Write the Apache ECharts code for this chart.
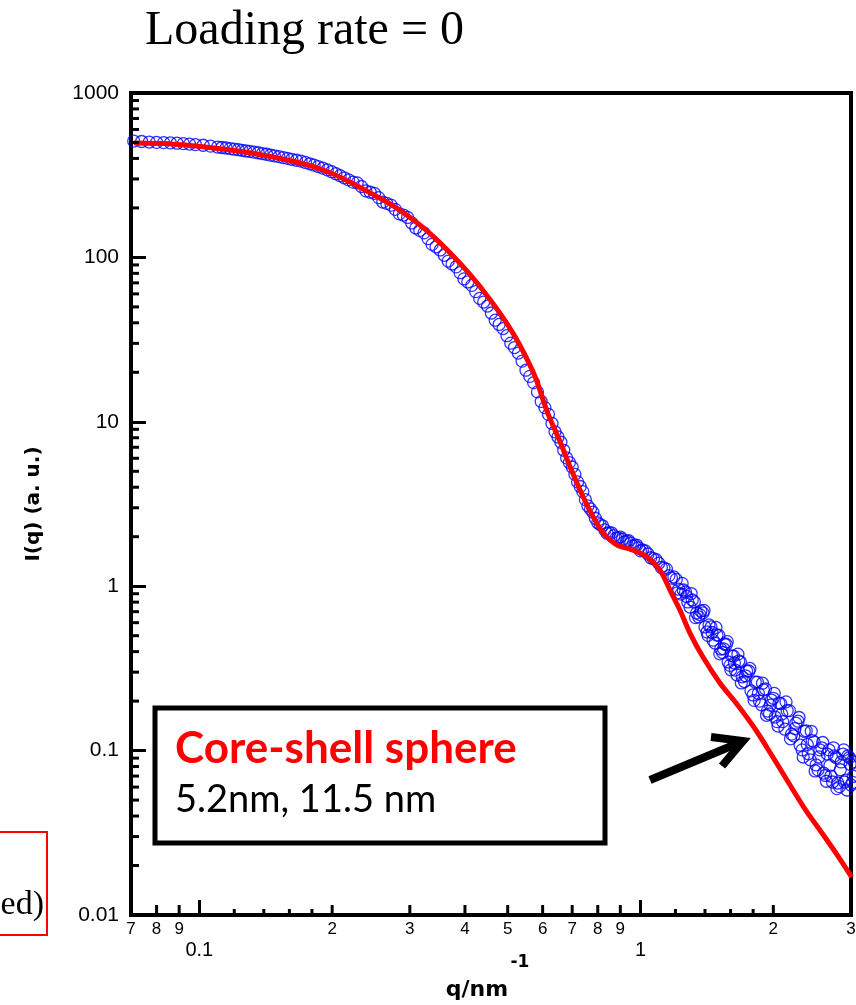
<!DOCTYPE html>
<html>
<head>
<meta charset="utf-8">
<style>
  html, body { margin: 0; padding: 0; background: #fff; }
  #chart { width: 856px; height: 1005px; }
</style>
<script src="https://cdn.jsdelivr.net/npm/echarts@6/dist/echarts.min.js"></script>
</head>
<body>
<div id="chart"></div>
<script>
// measured intensity (blue circles); the last rows are the extra noisy points of the high-q tail
const measQ = [
  0.071, 0.074, 0.077, 0.080, 0.083, 0.086, 0.089, 0.092, 0.095, 0.098,
  0.102, 0.106, 0.110, 0.1125, 0.115, 0.1175, 0.120, 0.1225, 0.125, 0.1275,
  0.130, 0.133, 0.136, 0.139, 0.142, 0.145, 0.148, 0.1515, 0.155, 0.1585,
  0.162, 0.166, 0.170, 0.174, 0.178, 0.182, 0.186, 0.1905, 0.195, 0.1995,
  0.204, 0.2085, 0.213, 0.218, 0.223, 0.228, 0.233, 0.2385, 0.244, 0.2495,
  0.255, 0.2605, 0.266, 0.272, 0.278, 0.284, 0.290, 0.2965, 0.303, 0.3095,
  0.316, 0.323, 0.330, 0.337, 0.344, 0.3515, 0.359, 0.3665, 0.374, 0.382,
  0.390, 0.398, 0.406, 0.4145, 0.423, 0.432, 0.441, 0.450, 0.459, 0.4685,
  0.478, 0.488, 0.498, 0.508, 0.518, 0.5285, 0.539, 0.550, 0.561, 0.5725,
  0.584, 0.5955, 0.607, 0.6185, 0.63, 0.64, 0.65, 0.66, 0.67, 0.68,
  0.69, 0.70, 0.71, 0.72, 0.73, 0.74, 0.75, 0.76, 0.77, 0.78,
  0.79, 0.80, 0.81, 0.82, 0.83, 0.84, 0.85, 0.86, 0.87, 0.88,
  0.89, 0.90, 0.91, 0.92, 0.93, 0.94, 0.95, 0.96, 0.97, 0.98,
  0.99, 1.00, 1.01, 1.025, 1.04, 1.055, 1.07, 1.085, 1.10, 1.115,
  1.13, 1.145, 1.16, 1.175, 1.19, 1.205, 1.22, 1.235, 1.25, 1.265,
  1.28, 1.295, 1.31, 1.325, 1.34, 1.355, 1.37, 1.385, 1.40, 1.415,
  1.43, 1.445, 1.46, 1.475, 1.49, 1.505, 1.52, 1.535, 1.55, 1.565,
  1.58, 1.595, 1.61, 1.625, 1.64, 1.655, 1.67, 1.685, 1.70, 1.72,
  1.74, 1.76, 1.78, 1.80, 1.82, 1.84, 1.86, 1.88, 1.90, 1.92,
  1.94, 1.96, 1.98, 2.00, 2.02, 2.04, 2.06, 2.08, 2.10, 2.125,
  2.15, 2.175, 2.20, 2.225, 2.25, 2.275, 2.30, 2.325, 2.35, 2.375,
  2.40, 2.425, 2.45, 2.475, 2.50, 2.525, 2.55, 2.575, 2.60, 2.625,
  2.65, 2.675, 2.70, 2.725, 2.75, 2.775, 2.80, 2.825, 2.85, 2.875,
  2.90, 2.925, 2.95, 2.975, 3.00, 3.025, 3.05,
  1.2125, 1.2425, 1.2725, 1.3025, 1.3325, 1.3625, 1.3925, 1.4225, 1.4525, 1.4825,
  1.5125, 1.5425, 1.5725, 1.6025, 1.6325, 1.6625, 1.6925, 1.73, 1.77, 1.81,
  1.85, 1.89, 1.93, 1.97, 2.01, 2.05, 2.09, 2.1375, 2.1875, 2.2375,
  2.2875, 2.3375, 2.3875, 2.4375, 2.4875, 2.5375, 2.5875, 2.6375, 2.6875, 2.7375,
  2.7875, 2.8375, 2.8875, 2.9375, 2.9875, 3.0375
]
const measI = [
  510, 507, 503, 501, 499, 497, 495, 492, 489, 485,
  481, 475, 469, 466, 463, 459, 455, 452, 448, 444,
  441, 437, 433, 428, 424, 419, 415, 410, 405, 400,
  395, 390, 385, 378, 371, 364, 357, 349, 341, 332,
  323, 314, 305, 296, 287, 284, 270, 254, 249, 245,
  231, 217, 213, 208, 196, 184, 181, 175, 162, 151,
  146, 141, 130, 120, 116, 111, 103, 94.9, 91.2, 87.6,
  80.7, 74.0, 70.9, 67.6, 61.9, 56.3, 53.5, 50.6, 45.9, 41.5,
  39.1, 36.9, 33.4, 30.1, 28.3, 26.2, 23.4, 20.6, 18.9, 17.3,
  15.2, 13.3, 12.2, 11.1, 9.77, 8.69, 8.08, 7.51, 6.71, 6.03,
  5.65, 5.31, 4.79, 4.31, 4.04, 3.76, 3.36, 3.08, 2.95, 2.82,
  2.59, 2.43, 2.37, 2.33, 2.20, 2.10, 2.11, 2.11, 2.03, 1.96,
  1.97, 1.99, 1.93, 1.86, 1.88, 1.89, 1.83, 1.76, 1.77, 1.78,
  1.71, 1.64, 1.66, 1.64, 1.57, 1.49, 1.47, 1.45, 1.38, 1.30,
  1.29, 1.27, 1.16, 1.12, 1.14, 1.10, 0.959, 0.895, 0.948, 0.922,
  0.802, 0.747, 0.824, 0.802, 0.687, 0.650, 0.707, 0.688, 0.565, 0.527,
  0.581, 0.565, 0.470, 0.451, 0.505, 0.502, 0.415, 0.395, 0.445, 0.442,
  0.346, 0.330, 0.377, 0.376, 0.309, 0.288, 0.351, 0.346, 0.281, 0.263,
  0.305, 0.305, 0.231, 0.218, 0.261, 0.261, 0.200, 0.190, 0.234, 0.237,
  0.174, 0.167, 0.203, 0.208, 0.160, 0.150, 0.195, 0.193, 0.150, 0.135,
  0.175, 0.175, 0.126, 0.123, 0.147, 0.151, 0.108, 0.101, 0.131, 0.132,
  0.0957, 0.0879, 0.115, 0.113, 0.0818, 0.0763, 0.101, 0.104, 0.0730, 0.0706,
  0.0953, 0.101, 0.0700, 0.0644, 0.0928, 0.0908, 0.0635, 0.0604, 0.0853, 0.0953,
  0.0644, 0.0662, 0.0927, 0.0907, 0.0618, 0.0640, 0.0853,
  0.912, 1.04, 0.866, 0.902, 0.644, 0.672, 0.712, 0.502, 0.523, 0.561,
  0.388, 0.416, 0.460, 0.310, 0.341, 0.386, 0.258, 0.285, 0.316, 0.202,
  0.223, 0.257, 0.164, 0.189, 0.223, 0.141, 0.167, 0.198, 0.118, 0.136,
  0.159, 0.0914, 0.109, 0.131, 0.0752, 0.0915, 0.112, 0.0651, 0.0812, 0.104,
  0.0587, 0.0765, 0.101, 0.0576, 0.0826, 0.0697
]

// core-shell sphere fit (red line)
const fitQ = [
  0.0711, 0.0862, 0.1008, 0.1308, 0.1697, 0.1985, 0.226, 0.2444, 0.2712, 0.301,
  0.334, 0.3708, 0.4115, 0.4567, 0.499, 0.5339, 0.5773, 0.6145, 0.6577, 0.6927,
  0.7413, 0.7812, 0.8226, 0.8853, 0.9619, 1.0346, 1.1074, 1.1663, 1.2285, 1.2943,
  1.3853, 1.5134, 1.6534, 1.8256, 1.995, 2.168, 2.368, 2.588, 2.813, 3.01
]
const fitI = [
  496, 490, 473, 432, 375, 326, 276, 246, 211, 174,
  139, 106, 78.2, 55.1, 39.3, 28.9, 18.7, 11.5, 7.54, 5.31,
  3.49, 2.64, 2.11, 1.78, 1.66, 1.51, 1.25, 0.948, 0.716, 0.519,
  0.371, 0.258, 0.192, 0.1335, 0.0914, 0.0635, 0.0435, 0.0311, 0.0225, 0.0170
]

// axis ticks
const xLabelTicks = [0.07, 0.08, 0.09, 0.2, 0.3, 0.4, 0.5, 0.6, 0.7, 0.8, 0.9, 2, 3]
const xLabelText = ['7', '8', '9', '2', '3', '4', '5', '6', '7', '8', '9', '2', '3']
const xSmallTicks = [0.12, 0.14, 0.16, 0.18, 1.2, 1.4, 1.6, 1.8]
const yDecades = [0.01, 0.1, 1, 10, 100]
const yMinorSteps = [2, 3, 4, 5, 6, 7, 8, 9]

const sans = '"Liberation Sans", Arial, sans-serif'
const boldSans = '"DejaVu Sans", sans-serif'
const calibriLike = 'Lato, "Open Sans", sans-serif'

const chart = echarts.init(document.getElementById('chart'))

chart.setOption({
  animation: false,
  backgroundColor: '#fff',
  title: {
    text: 'Loading rate = 0',
    left: 140,
    top: 2,
    textStyle: {
      fontFamily: '"Liberation Serif", "Times New Roman", serif',
      fontSize: 48,
      fontWeight: 'normal',
      color: '#000',
    },
  },
  grid: {
    left: 131,
    right: 5,
    top: 93,
    bottom: 90,
    show: true,
    borderColor: '#000',
    borderWidth: 4,
  },
  xAxis: {
    type: 'log',
    logBase: 10,
    min: 0.07,
    max: 3,
    axisLine: { show: true, lineStyle: { color: '#000', width: 4 } },
    axisTick: { inside: true, length: 15, lineStyle: { color: '#000', width: 3 } },
    axisLabel: {
      color: '#000',
      fontFamily: sans,
      fontSize: 20,
      margin: 25,
      formatter: (v) => {
        const l = Math.log10(v)
        return Math.abs(l - Math.round(l)) < 1e-6 ? String(+v.toPrecision(3)) : ''
      },
    },
    splitLine: { show: false },
  },
  yAxis: {
    type: 'log',
    logBase: 10,
    min: 0.01,
    max: 1000,
    axisLine: { show: true, lineStyle: { color: '#000', width: 4 } },
    axisTick: { inside: true, length: 15, lineStyle: { color: '#000', width: 3 } },
    axisLabel: {
      color: '#000',
      fontFamily: sans,
      fontSize: 21,
      margin: 12,
      formatter: (v) => String(+v.toPrecision(3)),
    },
    splitLine: { show: false },
    name: 'I(q) (a. u.)',
    nameLocation: 'middle',
    nameGap: 87,
    nameTextStyle: {
      fontFamily: boldSans,
      fontWeight: 'bold',
      fontSize: 20,
      color: '#000',
    },
  },
  series: [
    {
      name: 'measured',
      type: 'scatter',
      data: measQ.map((q, k) => [q, measI[k]]),
      symbol: 'circle',
      symbolSize: 12,
      itemStyle: { color: 'rgba(0,0,0,0)', borderColor: '#0000ff', borderWidth: 1.3 },
      clip: false,
      silent: true,
      z: 2,
    },
    {
      name: 'Core-shell sphere',
      type: 'line',
      data: fitQ.map((q, k) => [q, fitI[k]]),
      showSymbol: false,
      smooth: 0.3,
      lineStyle: { color: '#ff0000', width: 5 },
      silent: true,
      z: 3,
    },
  ],
})

function toPx(q, i) {
  return chart.convertToPixel({ gridIndex: 0 }, [q, i])
}

const g = []
const axisX = toPx(0.07, 1)[0]
const axisY = toPx(1, 0.01)[1]

// y minor ticks
yDecades.forEach((d) => {
  yMinorSteps.forEach((m) => {
    const y = toPx(1, d * m)[1]
    g.push({ type: 'line', shape: { x1: axisX, y1: y, x2: axisX + 8, y2: y }, style: { stroke: '#000', lineWidth: 3 }, z: 50 })
  })
})

// x minor ticks with their digit labels
xLabelTicks.forEach((q, k) => {
  const x = toPx(q, 1)[0]
  g.push({ type: 'line', shape: { x1: x, y1: axisY, x2: x, y2: axisY - 10 }, style: { stroke: '#000', lineWidth: 3 }, z: 50 })
  g.push({
    type: 'text', x: x, y: axisY + 14, z: 50,
    style: { text: xLabelText[k], fill: '#000', font: '17px ' + sans, align: 'center', verticalAlign: 'middle' },
  })
})
xSmallTicks.forEach((q) => {
  const x = toPx(q, 1)[0]
  g.push({ type: 'line', shape: { x1: x, y1: axisY, x2: x, y2: axisY - 6 }, style: { stroke: '#000', lineWidth: 3 }, z: 50 })
})

// x axis title q/nm^-1
g.push({
  type: 'text', x: 477, y: 990, z: 50,
  style: { text: 'q/nm', fill: '#000', font: 'bold 22px ' + boldSans, align: 'center', verticalAlign: 'middle' },
})
g.push({
  type: 'text', x: 520, y: 963, z: 50,
  style: { text: '-1', fill: '#000', font: 'bold 17px ' + boldSans, align: 'center', verticalAlign: 'middle' },
})

// annotation box
g.push({
  type: 'rect', z: 60,
  shape: { x: 155, y: 708, width: 450, height: 135 },
  style: { fill: '#fff', stroke: '#000', lineWidth: 5 },
})
g.push({
  type: 'text', x: 175, y: 749, z: 61,
  style: { text: 'Core-shell sphere', fill: '#ff0000', font: 'bold 44px ' + calibriLike, verticalAlign: 'middle' },
})
g.push({
  type: 'text', x: 175, y: 800, z: 61,
  style: { text: '5.2nm, 11.5 nm', fill: '#000', font: '38px ' + calibriLike, verticalAlign: 'middle' },
})

// arrow
g.push({
  type: 'polyline', z: 60,
  shape: { points: [[650, 780], [741, 742]] },
  style: { stroke: '#000', lineWidth: 8, fill: null },
})
g.push({
  type: 'polyline', z: 60,
  shape: { points: [[711, 737], [743, 741], [722, 766]] },
  style: { stroke: '#000', lineWidth: 8, fill: null, lineJoin: 'miter' },
})

// clipped red box at the left edge
g.push({
  type: 'rect', z: 60,
  shape: { x: -30, y: 832, width: 77, height: 103 },
  style: { fill: null, stroke: '#ff0000', lineWidth: 2 },
})
g.push({
  type: 'text', x: 44, y: 905, z: 61,
  style: { text: 'ed)', fill: '#000', font: '34px "Liberation Serif", serif', align: 'right', verticalAlign: 'middle' },
})

chart.setOption({ graphic: g })
</script>
</body>
</html>
